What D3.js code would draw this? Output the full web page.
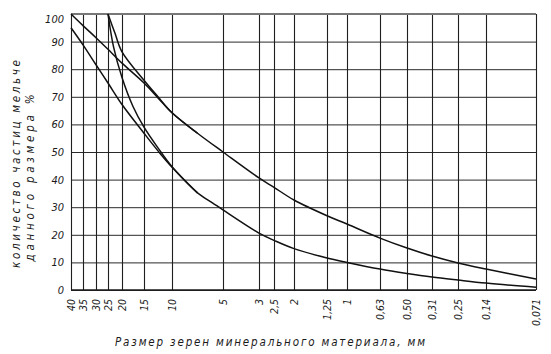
<!DOCTYPE html>
<html>
<head>
<meta charset="utf-8">
<script src="https://cdn.jsdelivr.net/npm/d3@7"></script>
<style>
  html, body { margin: 0; padding: 0; background: #fff; }
  svg { display: block; }
  text { font-family: "DejaVu Sans Condensed", "DejaVu Sans", sans-serif; font-style: italic; fill: #1a1a1a; }
</style>
</head>
<body>
<svg id="chart" width="551" height="354"></svg>
<script>
// Кривые гранулометрического состава (проходы через сита, %)

// ── данные ──────────────────────────────────────────────────────────────
const sieveSizes  = [40, 35, 30, 25, 20, 15, 10, 5, 3, 2.5, 2, 1.25, 1, 0.63, 0.5, 0.31, 0.25, 0.14, 0.071];
const sieveLabels = ['40', '35', '30', '25', '20', '15', '10', '5', '3', '2,5', '2', '1,25', '1', '0,63', '0,50', '0,31', '0,25', '0,14', '0,071'];
const pctTicks    = [0, 10, 20, 30, 40, 50, 60, 70, 80, 90, 100];

// верхняя граница (от 40 мм, 100 %)
const curveUpper = [
  [40, 100], [35, 95.8], [30, 91.4], [25, 87.2], [20, 82.2], [15, 75], [12.5, 69.6], [10, 64.2],
  [7.5, 56.8], [5, 50], [3, 40.6], [2.5, 37.2], [2, 32.6], [1.25, 26.9], [1, 23.9],
  [0.63, 18.8], [0.5, 15.2], [0.31, 12.3], [0.25, 9.8], [0.14, 7.6], [0.071, 4]
];
// нижняя граница (от 40 мм, 95 %)
const curveLower = [
  [40, 95], [35, 88.8], [30, 81.6], [25, 75], [20, 67.2], [15, 56.8], [12.5, 50.4],
  [10, 44.5], [7.5, 35.2], [6, 31.5], [5, 29], [3, 20.6], [2.5, 18], [2, 15], [1.25, 11.6], [1, 10],
  [0.63, 7.6], [0.5, 6], [0.31, 4.7], [0.25, 3.6], [0.14, 2.5], [0.071, 1]
];
// кривые от 25 мм
const curveSteep = [[25, 100], [23, 88], [20, 77], [17.5, 66.5], [15, 59], [12.5, 51.5], [10, 44.7], [7.5, 35.2]];
const curveMid   = [[25, 100], [22.5, 93], [20, 86.3], [15, 76], [12.5, 70], [10, 64.2], [7.5, 56.8]];

// ── разметка ────────────────────────────────────────────────────────────
const M = { left: 71, top: 14, right: 15, bottom: 64 };
const W = 551 - M.left - M.right;   // 465
const H = 354 - M.top - M.bottom;   // 276

// шкала сит на бланке неравномерная: положение каждой линии, px от левого края
const sieveOffsets = [0, 12, 25, 37, 51, 73, 101, 152, 188, 203, 223, 256, 276, 309, 336, 361, 387, 415, 465];

const x = d3.scaleLinear().domain(sieveSizes).range(sieveOffsets);
const y = d3.scaleLinear().domain([0, 100]).range([H, 0]);

const svg = d3.select('#chart');
const g = svg.append('g').attr('transform', `translate(${M.left},${M.top})`);

// горизонтальная сетка + подписи %
const yAxis = g.append('g')
  .call(d3.axisLeft(y).tickValues(pctTicks).tickSize(-W).tickPadding(7).tickFormat(d3.format('d')));
yAxis.select('.domain').remove();
yAxis.selectAll('.tick line').attr('stroke', '#2a2a2a').attr('stroke-width', 1);
yAxis.selectAll('.tick text').attr('font-size', 11);
yAxis.selectAll('.tick').filter(d => d === 100).select('text').attr('dy', '0.75em');

// вертикальная сетка + подписи размеров
const xAxis = g.append('g')
  .attr('transform', `translate(0,${H})`)
  .call(d3.axisBottom(x).tickValues(sieveSizes).tickSize(-H).tickFormat((d, i) => sieveLabels[i]));
xAxis.select('.domain').remove();
xAxis.selectAll('.tick line').attr('stroke', '#1f1f1f').attr('stroke-width', 1.1);
xAxis.selectAll('.tick text')
  .attr('font-size', 10.5)
  .attr('transform', 'rotate(-90)')
  .attr('text-anchor', 'end')
  .attr('x', -9).attr('y', 0).attr('dy', '0.35em');

// рамка
g.append('line').attr('x1', 0).attr('x2', W).attr('y1', 0).attr('y2', 0)
  .attr('stroke', '#777').attr('stroke-width', 2);
g.append('line').attr('x1', 0).attr('x2', W).attr('y1', H).attr('y2', H)
  .attr('stroke', '#1a1a1a').attr('stroke-width', 1.6);

// кривые
const line = d3.line()
  .x(d => x(d[0]))
  .y(d => y(d[1]))
  .curve(d3.curveCatmullRom.alpha(0.5));

[curveUpper, curveLower, curveSteep, curveMid].forEach(c => {
  g.append('path')
    .datum(c)
    .attr('d', line)
    .attr('fill', 'none')
    .attr('stroke', '#111')
    .attr('stroke-width', 1.5)
    .attr('stroke-linejoin', 'round');
});

// подписи осей
svg.append('text')
  .attr('x', 270).attr('y', 346)
  .attr('text-anchor', 'middle')
  .attr('font-size', 11.5)
  .attr('textLength', 310).attr('lengthAdjust', 'spacing')
  .text('Размер зерен минерального материала, мм');

svg.append('text')
  .attr('transform', 'translate(20,164) rotate(-90)')
  .attr('text-anchor', 'middle')
  .attr('font-size', 11.5)
  .attr('textLength', 208).attr('lengthAdjust', 'spacing')
  .text('количество частиц мельче');

svg.append('text')
  .attr('transform', 'translate(34,178) rotate(-90)')
  .attr('text-anchor', 'middle')
  .attr('font-size', 11.5)
  .attr('textLength', 167).attr('lengthAdjust', 'spacing')
  .text('данного размера %');
</script>
</body>
</html>
